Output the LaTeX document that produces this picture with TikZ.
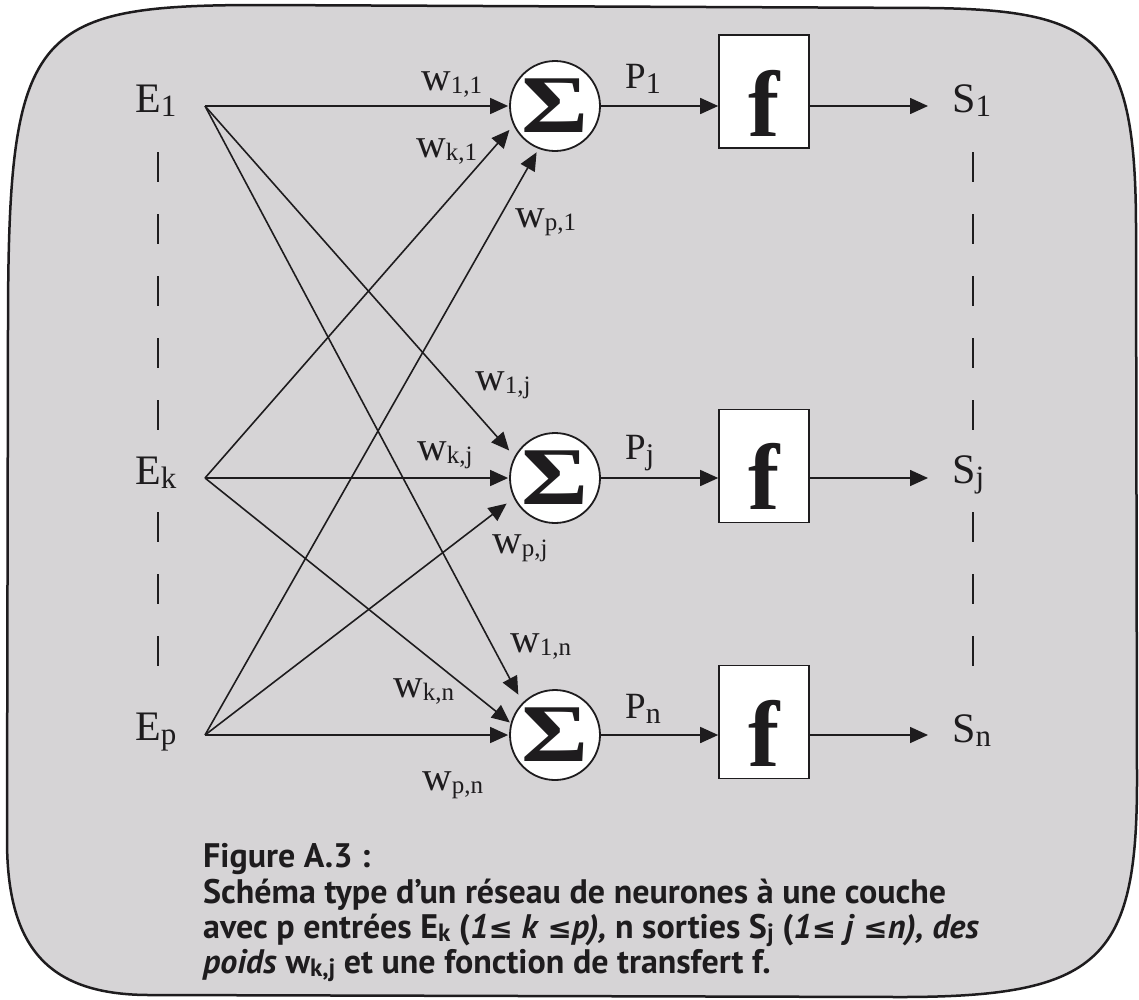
\documentclass[tikz,border=0pt]{standalone}
\usepackage{fontspec}
\setmainfont{Liberation Serif}
\newfontfamily\capfont{PT Sans}
\newfontfamily\symf{DejaVu Sans}
\usetikzlibrary{arrows.meta}
\definecolor{bg}{RGB}{214,212,214}
\definecolor{ink}{RGB}{30,28,30}
\newcommand{\Elab}[2]{\fontsize{42}{42}\selectfont #1\raisebox{-4pt}{\fontsize{31}{31}\selectfont #2}}
\newcommand{\Wlab}[1]{\fontsize{41}{41}\selectfont w\raisebox{-3pt}{\fontsize{25}{25}\selectfont #1}}
\newcommand{\Plab}[1]{\fontsize{37}{37}\selectfont P\raisebox{-5pt}{\fontsize{30}{30}\selectfont #1}}
\newcommand{\csub}[1]{\raisebox{-3pt}{\fontsize{25}{25}\selectfont #1}}
\newcommand{\leqs}{{\symf\fontsize{29}{29}\selectfont ≤}}
\begin{document}
\begin{tikzpicture}[x=1pt,y=-1pt,
  txt/.style={inner sep=0pt, anchor=base west, text=ink},
  sumnode/.style={circle, draw=ink, fill=white, line width=1.8pt, minimum size=90pt, inner sep=0pt, text=ink, font=\fontsize{82}{82}\selectfont\bfseries},
  fbox/.style={rectangle, draw=ink, fill=white, line width=1.6pt, minimum width=90pt, minimum height=113pt, inner sep=0pt},
  ftxt/.style={inner sep=0pt, anchor=base, text=ink, font=\fontsize{94}{94}\selectfont\bfseries},
  wire/.style={draw=ink, line width=1.6pt, -{Triangle[length=18pt,width=16pt]}},
  guide/.style={draw=ink, line width=1.8pt, dash pattern=on 30pt off 32pt},
  border/.style={draw=ink, line width=2.5pt, fill=bg},
  captxt/.style={txt, font=\fontsize{34}{34}\selectfont\capfont\bfseries}]
\useasboundingbox (0,0) rectangle (1139,999);
% background
\path[border] (8,330) .. controls (8,30) and (30,5) .. (260,5)
  -- (930,8) .. controls (1100,10) and (1136,40) .. (1136,230)
  -- (1137,780) .. controls (1137,960) and (1100,997) .. (900,997)
  -- (150,995) .. controls (50,995) and (7,950) .. (7,840) -- cycle;
% sources and outputs
\coordinate (e1) at (205,106);
\coordinate (ek) at (205,478);
\coordinate (ep) at (205,735);
\coordinate (o1) at (928,106);
\coordinate (oj) at (928,478);
\coordinate (on) at (928,735);
% labels
\node[txt] (E1) at (135,112) {\Elab{E}{1}};
\node[txt] (Ek) at (135,484) {\Elab{E}{k}};
\node[txt] (Ep) at (135,740) {\Elab{E}{p}};
\node[txt] (S1) at (952,112) {\Elab{S}{1}};
\node[txt] (Sj) at (952,483) {\Elab{S}{j}};
\node[txt] (Sn) at (952,742) {\Elab{S}{n}};
\node[txt] (P1) at (625,88) {\Plab{1}};
\node[txt] (Pj) at (625,459) {\Plab{j}};
\node[txt] (Pn) at (625,718) {\Plab{n}};
\node[txt] (w11) at (421,90) {\Wlab{1,1}};
\node[txt] (wk1) at (416,157) {\Wlab{k,1}};
\node[txt] (wp1) at (515,227) {\Wlab{p,1}};
\node[txt] (w1j) at (475,390) {\Wlab{1,j}};
\node[txt] (wkj) at (417,460) {\Wlab{k,j}};
\node[txt] (wpj) at (492,553) {\Wlab{p,j}};
\node[txt] (w1n) at (510,652) {\Wlab{1,n}};
\node[txt] (wkn) at (393,697) {\Wlab{k,n}};
\node[txt] (wpn) at (422,790) {\Wlab{p,n}};
% dashed guides
\coordinate (la1) at (158,152); \coordinate (la2) at (158,440);
\coordinate (lb1) at (158,512); \coordinate (lb2) at (158,690);
\coordinate (ra1) at (973,152); \coordinate (ra2) at (973,440);
\coordinate (rb1) at (973,512); \coordinate (rb2) at (973,690);
\draw[guide] (la1) -- (la2);
\draw[guide] (lb1) -- (lb2);
\draw[guide] (ra1) -- (ra2);
\draw[guide] (rb1) -- (rb2);
% summation nodes and transfer boxes
\node[sumnode] (s1) at (555,106) {\scalebox{1.25}[1]{Σ}};
\node[sumnode] (sj) at (555,478) {\scalebox{1.25}[1]{Σ}};
\node[sumnode] (sn) at (555,735) {\scalebox{1.25}[1]{Σ}};
\node[fbox] (b1) at (764,91.5) {};
\node[fbox] (bj) at (764,466) {};
\node[fbox] (bn) at (764,722) {};
\node[ftxt] (f1) at (764,136) {f};
\node[ftxt] (fj) at (764,509) {f};
\node[ftxt] (fn) at (764,766) {f};
% input wires
\draw[wire, shorten >=1pt] (e1) -- (s1.180);
\draw[wire, shorten >=6pt] (ek) -- (s1.205);
\draw[wire, shorten >=4pt] (ep) -- (s1.249);
\draw[wire, shorten >=8pt] (e1) -- (sj.152);
\draw[wire, shorten >=1pt] (ek) -- (sj.180);
\draw[wire, shorten >=9pt] (ep) -- (sj.206);
\draw[wire, shorten >=9pt] (e1) -- (sn.135);
\draw[wire, shorten >=1pt] (ek) -- (sn.165);
\draw[wire, shorten >=1pt] (ep) -- (sn.180);
% sum to box, box to output
\draw[wire] (s1.east) -- (b1.west |- s1.east);
\draw[wire] (sj.east) -- (bj.west |- sj.east);
\draw[wire] (sn.east) -- (bn.west |- sn.east);
\draw[wire] (b1.east |- s1.east) -- (o1);
\draw[wire] (bj.east |- sj.east) -- (oj);
\draw[wire] (bn.east |- sn.east) -- (on);
% caption
\node[captxt] (c1) at (203,867) {Figure A.3 :};
\node[captxt] (c2) at (203,903) {Schéma type d’un réseau de neurones à une couche};
\node[captxt] (c3) at (203,938) {avec p entrées E\csub{k} (\textit{1}\leqs{} \textit{k} \leqs\textit{p),} n sorties S\csub{j} (\textit{1}\leqs{} \textit{j} \leqs\textit{n), des}};
\node[captxt] (c4) at (203,973) {\textit{poids} w\csub{k,j} et une fonction de transfert f.};
\end{tikzpicture}
\end{document}
